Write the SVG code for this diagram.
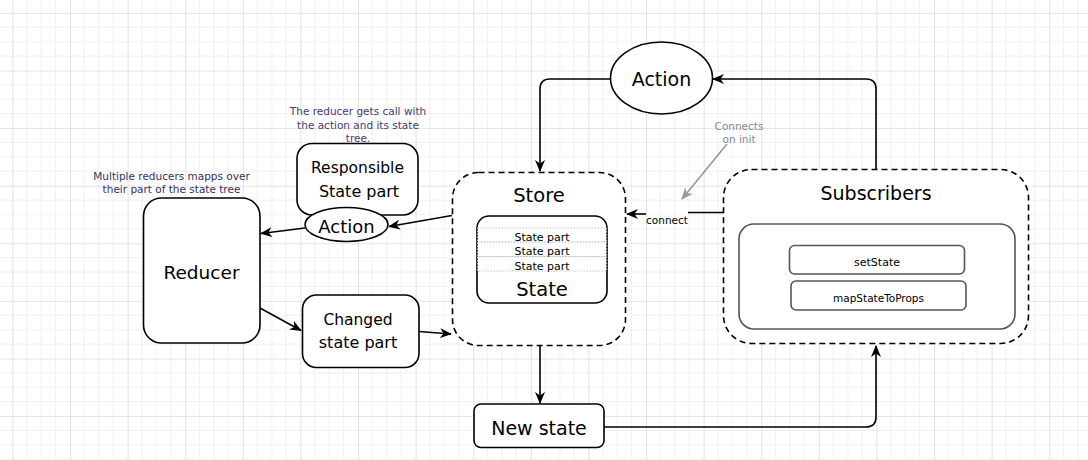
<svg xmlns="http://www.w3.org/2000/svg" width="1088" height="460" viewBox="0 0 1088 460">
<style>
text{font-family:"DejaVu Sans","Liberation Sans",sans-serif;fill:#000;text-anchor:middle;dominant-baseline:central}
.node{fill:#fff;stroke:#000;stroke-width:1.6}
.dash{fill:#fff;stroke:#000;stroke-width:1.6;stroke-dasharray:6 4}
.inner{fill:#fff;stroke:#555;stroke-width:1.6}
.row{fill:none;stroke:#c8c8c8;stroke-width:1;stroke-dasharray:1.5 1.5}
.edge{fill:none;stroke:#000;stroke-width:1.6}
.note{font-size:10.5px}
</style>
<defs>
<pattern id="grid" patternUnits="userSpaceOnUse" x="12.4" y="12.9" width="57.6" height="57.6">
<rect width="57.6" height="57.6" fill="#fff"/>
<path d="M14.4,0V57.6M28.8,0V57.6M43.2,0V57.6M0,14.4H57.6M0,28.8H57.6M0,43.2H57.6" stroke="#f0f0f0" stroke-width="1"/>
<path d="M0.5,0V57.6M0,0.5H57.6" stroke="#e2e2e2" stroke-width="1"/>
</pattern>
<marker id="arr" viewBox="0 0 12 10" refX="11" refY="5" markerWidth="12" markerHeight="10" markerUnits="userSpaceOnUse" orient="auto">
<path d="M0,0 L12,5 L0,10 L3.5,5 Z" fill="#000"/>
</marker>
<marker id="arrg" viewBox="0 0 12 10" refX="11" refY="5" markerWidth="12" markerHeight="10" markerUnits="userSpaceOnUse" orient="auto">
<path d="M0,0 L12,5 L0,10 L3.5,5 Z" fill="#999"/>
</marker>
</defs>
<rect width="1088" height="460" fill="url(#grid)"/>

<g id="connectors">
<path class="edge" d="M876,169 L876,89 Q876,79 866,79 L713,79" marker-end="url(#arr)"/>
<path class="edge" d="M611,79 L550,79 Q540,79 540,89 L540,171" marker-end="url(#arr)"/>
<path class="edge" d="M723,212.5 L688,212.5"/>
<path class="edge" d="M646,214 L627,214" marker-end="url(#arr)"/>
<text x="667" y="220" style="font-size:10.5px">connect</text>
<path class="edge" d="M452,215.5 L389,226.5" marker-end="url(#arr)"/>
<path class="edge" d="M305,228 L261,233.5" marker-end="url(#arr)"/>
<path class="edge" d="M260,308 L301,330.5" marker-end="url(#arr)"/>
<path class="edge" d="M419,331.5 L451,334" marker-end="url(#arr)"/>
<path class="edge" d="M540,346 L540,403" marker-end="url(#arr)"/>
<path class="edge" d="M604,427 L866,427 Q876,427 876,417 L876,346" marker-end="url(#arr)"/>
<path d="M727,144 L682,199" fill="none" stroke="#999" stroke-width="1.6" marker-end="url(#arrg)"/>
</g>

<g id="note-connects">
<text x="739" y="126" style="font-size:10.5px;fill:#7f8a99">Connects</text>
<text x="739" y="138.5" style="font-size:10.5px;fill:#7f8a99">on init</text>
</g>

<g id="action-top">
<ellipse class="node" cx="661.5" cy="78" rx="51" ry="36"/>
<text x="661.5" y="79" style="font-size:19px">Action</text>
</g>

<g id="store">
<rect class="dash" x="452.5" y="172.5" width="173" height="173" rx="26"/>
<text x="539" y="195.5" style="font-size:19.5px">Store</text>
</g>

<g id="state">
<rect class="node" x="477" y="216" width="130" height="87" rx="12"/>
<rect class="row" x="477.5" y="228" width="129" height="14"/>
<rect class="row" x="477.5" y="242" width="129" height="14.5"/>
<rect class="row" x="477.5" y="256.5" width="129" height="14.5"/>
<text x="542" y="237" style="font-size:11px">State part</text>
<text x="542" y="251.5" style="font-size:11px">State part</text>
<text x="542" y="266" style="font-size:11px">State part</text>
<text x="542" y="289" style="font-size:19.5px">State</text>
</g>

<g id="subscribers">
<rect class="dash" x="723.5" y="169.5" width="305" height="174" rx="28"/>
<text x="876" y="192.5" style="font-size:19px">Subscribers</text>
<rect class="inner" x="739" y="224" width="276" height="105" rx="15"/>
</g>

<g id="setstate">
<rect class="inner" x="789.5" y="245.5" width="175" height="28.5" rx="5"/>
<text x="877" y="262" style="font-size:11px">setState</text>
</g>

<g id="mapstatetoprops">
<rect class="inner" x="791" y="281" width="175" height="29" rx="5"/>
<text x="878.5" y="298" style="font-size:10.5px">mapStateToProps</text>
</g>

<g id="responsible">
<rect class="node" x="297" y="143.5" width="121" height="71.5" rx="15"/>
<text x="357.5" y="167.5" style="font-size:15.5px">Responsible</text>
<text x="359" y="191" style="font-size:16px">State part</text>
</g>

<g id="note-reducer-call">
<text class="note" x="358" y="111" style="fill:#4b3a6e">The reducer gets call with</text>
<text class="note" x="358" y="124.5" style="fill:#4b3a6e">the action and its state</text>
<text class="note" x="358" y="137.5" style="fill:#4b3a6e">tree.</text>
</g>

<g id="action-mid">
<ellipse class="node" cx="346.5" cy="224.5" rx="41.5" ry="17"/>
<text x="346.5" y="226" style="font-size:18px">Action</text>
</g>

<g id="note-multiple">
<text class="note" x="171.5" y="176" style="fill:#3a3060">Multiple reducers mapps over</text>
<text class="note" x="171.5" y="188.5" style="fill:#3a3060">their part of the state tree</text>
</g>

<g id="reducer">
<rect class="node" x="143.5" y="198" width="116.5" height="145" rx="18"/>
<text x="201.5" y="272.5" style="font-size:18.5px">Reducer</text>
</g>

<g id="changed">
<rect class="node" x="302.5" y="295" width="116.5" height="72.5" rx="14"/>
<text x="358" y="320" style="font-size:15.5px">Changed</text>
<text x="358" y="342.5" style="font-size:16px">state part</text>
</g>

<g id="newstate">
<rect class="node" x="474" y="404" width="130" height="43.5" rx="7"/>
<text x="539" y="427.5" style="font-size:19px">New state</text>
</g>
</svg>
